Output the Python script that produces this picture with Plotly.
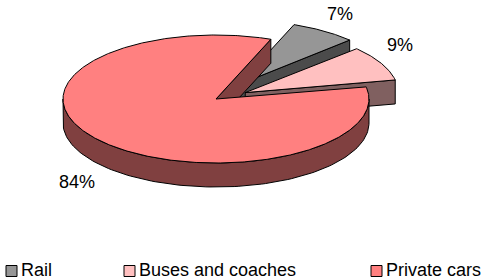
import numpy as np
import plotly.graph_objects as go

# ---- data ----
categories = ["Rail", "Buses and coaches", "Private cars"]
shares = [7, 9, 84]

# ---- styles ----
top_colors = ["#969696", "#FFC0C0", "#FF8080"]
side_colors = ["#4B4B4B", "#806060", "#804040"]
explode = [42, 33, 0]
label_xy = [(340, 14), (400, 45), (77, 182)]
legend_x = [6, 124, 371]
LEG_Y = 271
CX, CY, RX, RY, DEPTH = 216, 99, 153, 64, 24
START = 21
FONT = "Liberation Sans, Arial, sans-serif"


def pt(theta, cx, cy, dz=0.0):
    t = np.radians(theta)
    return cx + RX * np.sin(t), cy - RY * np.cos(t) + dz


fig = go.Figure()
total = float(sum(shares))
angle = START


def add_poly(xs, ys, color):
    fig.add_trace(go.Scatter(x=list(xs) + [xs[0]], y=list(ys) + [ys[0]],
                             mode="lines", fill="toself", fillcolor=color,
                             line=dict(color="black", width=1),
                             hoverinfo="skip", showlegend=False))


for i, (cat, v) in enumerate(zip(categories, shares)):
    a0 = angle
    a1 = angle + 360.0 * v / total
    angle = a1
    mid = np.radians((a0 + a1) / 2)
    cx = CX + explode[i] * np.sin(mid)
    cy = CY - explode[i] * np.cos(mid) * RY / RX

    # radial walls
    for a, visible in ((a0, np.sin(np.radians(a0)) < 0), (a1, np.sin(np.radians(a1)) > 0)):
        if visible:
            ox, oy = pt(a, cx, cy)
            add_poly([cx, ox, ox, cx], [cy, oy, oy + DEPTH, cy + DEPTH], side_colors[i])

    # outer front wall
    lo, hi = max(a0, 90), min(a1, 270)
    if hi > lo:
        arc = np.linspace(lo, hi, 120)
        tx, ty = pt(arc, cx, cy)
        bx, by = pt(arc[::-1], cx, cy, DEPTH)
        add_poly(np.concatenate([tx, bx]), np.concatenate([ty, by]), side_colors[i])

    # top face
    arc = np.linspace(a0, a1, max(10, int((a1 - a0) * 2)))
    tx, ty = pt(arc, cx, cy)
    add_poly(np.concatenate([[cx], tx]), np.concatenate([[cy], ty]), top_colors[i])

    # percentage label
    lx, ly = label_xy[i]
    fig.add_annotation(x=lx, y=ly, text=f"{v}%", showarrow=False,
                       xanchor="center", yanchor="middle",
                       font=dict(family=FONT, size=18, color="black"))

    # legend entry
    fig.add_shape(type="rect", x0=legend_x[i], x1=legend_x[i] + 11,
                  y0=LEG_Y - 5.5, y1=LEG_Y + 5.5, xref="x", yref="y",
                  fillcolor=top_colors[i], line=dict(color="black", width=1))
    fig.add_annotation(x=legend_x[i] + 14, y=LEG_Y - 1, text=cat, showarrow=False,
                       xanchor="left", yanchor="middle", borderpad=0,
                       font=dict(family=FONT, size=18, color="black"))

fig.update_layout(
    width=487, height=280,
    margin=dict(l=0, r=0, t=0, b=0),
    paper_bgcolor="white", plot_bgcolor="white",
    showlegend=False,
    xaxis=dict(range=[0, 487], visible=False, fixedrange=True),
    yaxis=dict(range=[280, 0], visible=False, fixedrange=True),
)

fig.write_html("out.html",
               config={"displayModeBar": False, "staticPlot": True},
               post_script="document.body.style.margin='0';"
                           "document.body.style.overflow='hidden';")
